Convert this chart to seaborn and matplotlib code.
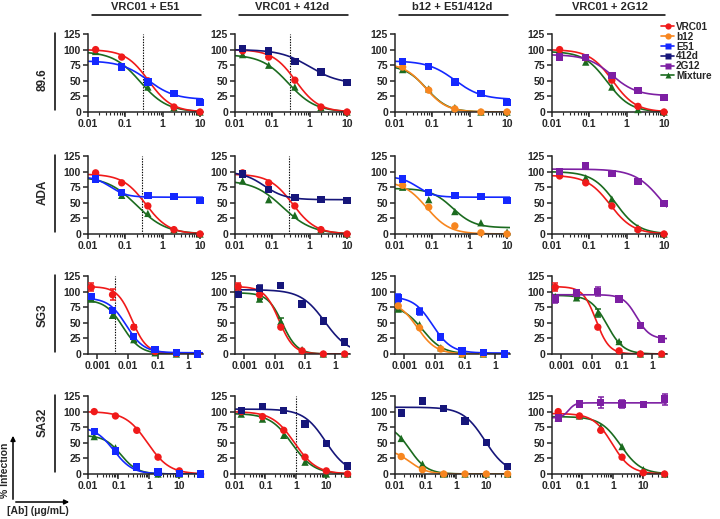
import numpy as np
import pandas as pd
import matplotlib
matplotlib.use("Agg")
import matplotlib.pyplot as plt
import seaborn as sns
from matplotlib.lines import Line2D
from matplotlib.ticker import LogLocator, NullFormatter

sns.set_style("ticks")
plt.rcParams["font.family"] = ["Liberation Sans", "DejaVu Sans"]
plt.rcParams["font.weight"] = "bold"

viruses = ["89.6", "ADA", "SG3", "SA32"]
combos = ["VRC01 + E51", "VRC01 + 412d", "b12 + E51/412d", "VRC01 + 2G12"]

colors = {"VRC01": "#f01a1a", "b12": "#f7861f", "E51": "#1428ff",
          "412d": "#16167a", "2G12": "#7d1fa3", "Mixture": "#1b6b1f"}
markers = {"VRC01": "o", "b12": "o", "E51": "s", "412d": "s", "2G12": "s", "Mixture": "^"}

# antibody concentrations (ug/mL), 5-fold dilutions
conc_std = [0.016, 0.08, 0.4, 2, 10]
conc_sg3 = [0.00064, 0.0032, 0.016, 0.08, 0.4, 2]
conc_sa32 = [0.016, 0.08, 0.4, 2, 10, 50]

# % infection per panel (one dict per combination column)
pts_896 = [
    {"Mixture": [97, 73, 40, 7, 0], "VRC01": [100, 88, 50, 8, 0], "E51": [82, 72, 48, 30, 15]},
    {"Mixture": [92, 75, 40, 7, 0], "VRC01": [98, 88, 51, 8, 0], "412d": [102, 98, 81, 64, 47]},
    {"Mixture": [68, 37, 7, 0, 0], "b12": [72, 35, 5, 0, 0], "E51": [81, 73, 48, 30, 15]},
    {"Mixture": [96, 80, 40, 4, 0], "VRC01": [100, 87, 51, 9, 0], "2G12": [88, 87, 59, 34, 23]},
]
pts_ada = [
    {"Mixture": [92, 62, 33, 7, 0], "VRC01": [98, 82, 45, 7, 0], "E51": [88, 66, 62, 60, 54]},
    {"Mixture": [85, 55, 30, 7, 0], "VRC01": [98, 82, 45, 7, 0], "412d": [96, 71, 58, 55, 54]},
    {"Mixture": [75, 55, 36, 18, 3], "b12": [78, 43, 13, 2, 0], "E51": [88, 66, 62, 60, 54]},
    {"Mixture": [100, 90, 56, 10, 0], "VRC01": [93, 82, 45, 7, 0], "2G12": [100, 110, 97, 84, 49]},
]
pts_sg3 = [
    {"Mixture": [88, 62, 23, 2, 0, 0], "VRC01": [107, 95, 43, 4, 1, 0], "E51": [92, 70, 28, 7, 2, 0]},
    {"Mixture": [97, 88, 52, 7, 0, 0], "VRC01": [108, 95, 43, 5, 0, 0], "412d": [95, 105, 110, 80, 53, 19]},
    {"Mixture": [72, 47, 10, 0, 0, 0], "b12": [77, 42, 8, 0, 0, 0], "E51": [90, 68, 27, 5, 2, 0]},
    {"Mixture": [92, 90, 66, 20, 0, 0], "VRC01": [107, 97, 43, 5, 0, 0], "2G12": [88, 98, 100, 88, 46, 24]},
]
pts_sa32 = [
    {"Mixture": [60, 42, 11, 0, 0, 0], "VRC01": [100, 93, 70, 27, 5, 0], "E51": [68, 37, 11, 3, 1, 0]},
    {"Mixture": [96, 88, 62, 19, 0, 0], "VRC01": [100, 92, 70, 27, 5, 0], "412d": [102, 108, 102, 80, 49, 13]},
    {"Mixture": [57, 16, 0, 0, 0, 0], "b12": [28, 7, 0, 0, 0, 0], "412d": [98, 117, 105, 85, 50, 12]},
    {"Mixture": [90, 93, 75, 44, 7, 0], "VRC01": [100, 93, 70, 27, 2, 0], "2G12": [90, 112, 115, 112, 111, 120]},
]

# error bars (SD) where visible
err_sg3 = [
    {"VRC01": [6, 9, 3, 0, 0, 0], "E51": [4, 4, 3, 0, 0, 0], "Mixture": [3, 4, 3, 0, 0, 0]},
    {"VRC01": [5, 0, 0, 0, 0, 0], "412d": [0, 6, 0, 0, 0, 0], "Mixture": [0, 0, 5, 0, 0, 0]},
    {"E51": [6, 5, 3, 0, 0, 0]},
    {"VRC01": [6, 5, 0, 0, 0, 0], "2G12": [6, 0, 7, 3, 3, 0], "Mixture": [0, 0, 6, 0, 0, 0]},
]
err_sa32 = [{}, {}, {}, {"2G12": [3, 5, 9, 6, 0, 9]}]

# fitted 4PL curves: (top, bottom, IC50, hill)
fit_896 = [
    {"Mixture": (97, 0, 0.25, 1.2), "VRC01": (100, 0, 0.42, 1.4), "E51": (82, 20, 0.4, 1.2)},
    {"Mixture": (92, 0, 0.27, 1.2), "VRC01": (100, 0, 0.42, 1.4), "412d": (100, 45, 1.0, 1.1)},
    {"Mixture": (75, 0, 0.07, 1.5), "b12": (78, 0, 0.065, 1.5), "E51": (82, 20, 0.4, 1.2)},
    {"Mixture": (97, 0, 0.3, 1.4), "VRC01": (100, 0, 0.42, 1.4), "2G12": (92, 26, 0.4, 1.3)},
]
fit_ada = [
    {"Mixture": (92, 0, 0.2, 1.1), "VRC01": (96, 0, 0.35, 1.4), "E51": (92, 59, 0.04, 2.0)},
    {"Mixture": (86, 0, 0.19, 1.1), "VRC01": (96, 0, 0.35, 1.4), "412d": (100, 55, 0.06, 1.5)},
    {"Mixture": (73, 10, 0.35, 1.5), "b12": (85, 0, 0.07, 1.4), "E51": (92, 59, 0.04, 2.0)},
    {"Mixture": (100, 0, 0.5, 1.4), "VRC01": (94, 0, 0.36, 1.4), "2G12": (104, 0, 9.0, 1.2)},
]
fit_sg3 = [
    {"Mixture": (87, 0, 0.007, 1.5), "VRC01": (108, 1, 0.014, 1.8), "E51": (90, 2, 0.009, 1.5)},
    {"Mixture": (98, 0, 0.018, 1.8), "VRC01": (108, 0, 0.014, 1.8), "412d": (103, 0, 0.45, 1.1)},
    {"Mixture": (78, 0, 0.004, 1.3), "b12": (85, 0, 0.0027, 1.4), "E51": (92, 1.5, 0.0085, 1.4)},
    {"Mixture": (94, 0, 0.032, 1.6), "VRC01": (108, 0, 0.014, 2.0), "2G12": (95, 24, 0.3, 2.0)},
]
fit_sa32 = [
    {"Mixture": (62, 0, 0.12, 1.6), "VRC01": (100, 0, 0.9, 1.2), "E51": (76, 0, 0.07, 1.4)},
    {"Mixture": (97, 0, 0.75, 1.2), "VRC01": (100, 0, 0.9, 1.2), "412d": (104, 0, 9.5, 1.2)},
    {"Mixture": (80, 0, 0.03, 1.5), "b12": (40, 0, 0.03, 1.5), "412d": (107, 0, 9.0, 1.2)},
    {"Mixture": (92, 0, 1.8, 1.3), "VRC01": (97, 0, 0.95, 1.4), "2G12": (90, 114, 0.035, 4.0)},
]

# dotted reference lines (ug/mL) per row/column
vlines = [[0.3, 0.3, None, None], [0.28, 0.28, None, None],
          [0.004, None, None, None], [None, 1.0, None, None]]

rows = [(conc_std, pts_896, fit_896, [{}] * 4, (0.01, 12)),
        (conc_std, pts_ada, fit_ada, [{}] * 4, (0.01, 12)),
        (conc_sg3, pts_sg3, fit_sg3, err_sg3, (0.0005, 3)),
        (conc_sa32, pts_sa32, fit_sa32, err_sa32, (0.01, 60))]


def four_pl(x, top, bottom, ic50, hill):
    return bottom + (top - bottom) / (1 + (x / ic50) ** hill)


W, H = 720, 519
fig = plt.figure(figsize=(W / 100, H / 100), dpi=100)

col_left = [88, 235, 395, 552]
row_zero = [112, 234, 354, 474]
ax_w, ax_h = 115, 78

for r, (conc, pts, fits, errs, xlim) in enumerate(rows):
    for c in range(4):
        ax = fig.add_axes([col_left[c] / W, 1 - row_zero[r] / H, ax_w / W, ax_h / H])
        ax.set_xscale("log")
        xs = np.logspace(np.log10(xlim[0]), np.log10(xlim[1]), 300)
        for ab, p in fits[c].items():
            sns.lineplot(x=xs, y=four_pl(xs, *p), color=colors[ab], lw=1.2, ax=ax, zorder=2)
        for ab, e in errs[c].items():
            ax.errorbar(conc, pts[c][ab], yerr=e, fmt="none", ecolor=colors[ab],
                        elinewidth=1.1, capsize=2.2, capthick=1.1, clip_on=False, zorder=3)
        df = pd.DataFrame([(x, v, ab) for ab, vals in pts[c].items() for x, v in zip(conc, vals)],
                          columns=["conc", "pct", "ab"])
        sns.scatterplot(data=df, x="conc", y="pct", hue="ab", style="ab",
                        palette=colors, markers=markers, s=28, edgecolor="none",
                        legend=False, clip_on=False, zorder=4, ax=ax)
        if vlines[r][c] is not None:
            ax.axvline(vlines[r][c], color="black", ls=(0, (1.2, 1.2)), lw=0.8, zorder=1)
        ax.set_xlim(*xlim)
        ax.set_ylim(0, 125)
        ax.set_yticks([0, 25, 50, 75, 100, 125])
        dec = [10.0 ** k for k in range(-4, 3) if xlim[0] <= 10.0 ** k <= xlim[1]]
        ax.set_xticks(dec)
        ax.set_xticklabels([f"{t:g}" for t in dec])
        ax.xaxis.set_minor_locator(LogLocator(base=10, subs=np.arange(2, 10)))
        ax.xaxis.set_minor_formatter(NullFormatter())
        ax.set_xlabel("")
        ax.set_ylabel("")
        sns.despine(ax=ax)
        for s in ("left", "bottom"):
            ax.spines[s].set_linewidth(1.1)
        ax.tick_params(which="major", length=3.5, width=1.1, labelsize=7.5, pad=1.5)
        ax.tick_params(which="minor", length=2, width=0.8)
        for lab in ax.get_xticklabels() + ax.get_yticklabels():
            lab.set_fontweight("bold")

# column headers with rule underneath
for c, title in enumerate(combos):
    cx = (col_left[c] + ax_w / 2) / W
    fig.text(cx, 1 - 9.5 / H, title, ha="center", va="baseline", fontsize=8, fontweight="bold")
    fig.add_artist(Line2D([(col_left[c] + 4) / W, (col_left[c] + ax_w - 2) / W],
                          [1 - 15 / H, 1 - 15 / H], color="black", lw=1.1))

# row labels with vertical rule
label_y = [80, 192, 315, 422]
for r, name in enumerate(viruses):
    fig.text(43 / W, 1 - label_y[r] / H, name, rotation=90, ha="center", va="center",
             fontsize=8.5, fontweight="bold")
    top = row_zero[r] - ax_h
    fig.add_artist(Line2D([55 / W, 55 / W], [1 - (top - 1) / H, 1 - (row_zero[r] - 2) / H],
                          color="black", lw=1.1))

# legend
order = ["VRC01", "b12", "E51", "412d", "2G12", "Mixture"]
handles = [Line2D([], [], color=colors[k], marker=markers[k], ms=4.5, lw=1.2, mec="none") for k in order]
fig.legend(handles, order, loc="upper left", bbox_to_anchor=(661 / W, 1 - 22 / H),
           frameon=False, fontsize=7.2, handlelength=1.3, handletextpad=0.2,
           labelspacing=-0.02, borderaxespad=0, borderpad=0)

# axis key arrows at bottom left
fig.add_artist(matplotlib.patches.FancyArrowPatch((13 / W, 1 - 502 / H), (13 / W, 1 - 433 / H),
               transform=fig.transFigure, arrowstyle="-|>", mutation_scale=7, lw=1.1, color="black"))
fig.add_artist(matplotlib.patches.FancyArrowPatch((13 / W, 1 - 502 / H), (72 / W, 1 - 502 / H),
               transform=fig.transFigure, arrowstyle="-|>", mutation_scale=7, lw=1.1, color="black"))
fig.text(5 / W, 1 - 470 / H, "% Infection", rotation=90, ha="center", va="center", fontsize=7.5)
fig.text(38 / W, 1 - 511 / H, "[Ab] (\u03bcg/mL)", ha="center", va="center", fontsize=7.5)

fig.savefig("out.png", dpi=100)
